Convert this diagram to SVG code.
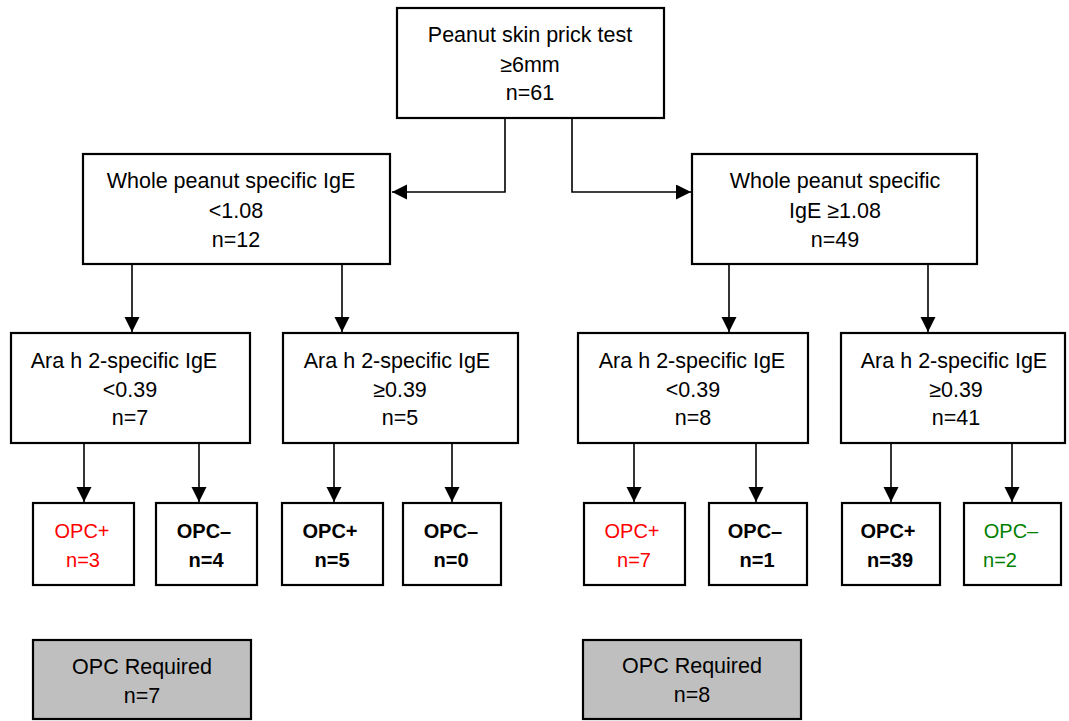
<svg xmlns="http://www.w3.org/2000/svg" width="1069" height="721" viewBox="0 0 1069 721">
<style>
.box{fill:#fff;stroke:#000;stroke-width:2.2}
.grey{fill:#bfbfbf;stroke:#000;stroke-width:2.2}
.t{font-family:"Liberation Sans",Arial,sans-serif;font-size:21.5px;fill:#000;text-anchor:middle}
.o{font-family:"Liberation Sans",Arial,sans-serif;font-size:20px;text-anchor:middle}
.b{font-weight:bold;fill:#000}
.red{fill:#ff0000}
.grn{fill:#008000}
.c{fill:none;stroke:#000;stroke-width:1.6}
</style>
<defs>
<marker id="ah" markerUnits="userSpaceOnUse" markerWidth="17" markerHeight="16" refX="15" refY="7.5" orient="auto">
<path d="M0,0 L15,7.5 L0,15 Z" fill="#000"/>
</marker>
</defs>
<g id="connectors">
<path class="c" d="M505,118 V192 H392" marker-end="url(#ah)"/>
<path class="c" d="M572,118 V192 H691" marker-end="url(#ah)"/>
<path class="c" d="M132,264 V332" marker-end="url(#ah)"/>
<path class="c" d="M342,264 V332" marker-end="url(#ah)"/>
<path class="c" d="M729,264 V332" marker-end="url(#ah)"/>
<path class="c" d="M928,264 V332" marker-end="url(#ah)"/>
<path class="c" d="M84,443 V502" marker-end="url(#ah)"/>
<path class="c" d="M199,443 V502" marker-end="url(#ah)"/>
<path class="c" d="M334,443 V502" marker-end="url(#ah)"/>
<path class="c" d="M452,443 V502" marker-end="url(#ah)"/>
<path class="c" d="M634,443 V502" marker-end="url(#ah)"/>
<path class="c" d="M756,443 V502" marker-end="url(#ah)"/>
<path class="c" d="M891,443 V502" marker-end="url(#ah)"/>
<path class="c" d="M1012,443 V502" marker-end="url(#ah)"/>
</g>
<g id="root">
<rect class="box" x="397" y="8" width="267" height="110"/>
<text class="t" x="530" y="42">Peanut skin prick test</text>
<text class="t" x="530" y="72">≥6mm</text>
<text class="t" x="530" y="100">n=61</text>
</g>
<g id="wp-low">
<rect class="box" x="83" y="154" width="307" height="110"/>
<text class="t" x="231" y="188">Whole peanut specific IgE</text>
<text class="t" x="236" y="218">&lt;1.08</text>
<text class="t" x="236" y="247">n=12</text>
</g>
<g id="wp-high">
<rect class="box" x="692" y="154" width="285" height="110"/>
<text class="t" x="835" y="188">Whole peanut specific</text>
<text class="t" x="835" y="218">IgE ≥1.08</text>
<text class="t" x="835" y="247">n=49</text>
</g>
<g id="ara1">
<rect class="box" x="11" y="333" width="239" height="110"/>
<text class="t" x="124" y="368">Ara h 2-specific IgE</text>
<text class="t" x="130" y="397">&lt;0.39</text>
<text class="t" x="130" y="425">n=7</text>
</g>
<g id="ara2">
<rect class="box" x="283" y="333" width="235" height="110"/>
<text class="t" x="397" y="368">Ara h 2-specific IgE</text>
<text class="t" x="400" y="397">≥0.39</text>
<text class="t" x="400" y="425">n=5</text>
</g>
<g id="ara3">
<rect class="box" x="578" y="333" width="230" height="110"/>
<text class="t" x="692" y="368">Ara h 2-specific IgE</text>
<text class="t" x="693" y="397">&lt;0.39</text>
<text class="t" x="693" y="425">n=8</text>
</g>
<g id="ara4">
<rect class="box" x="841" y="333" width="224" height="110"/>
<text class="t" x="954" y="368">Ara h 2-specific IgE</text>
<text class="t" x="956" y="397">≥0.39</text>
<text class="t" x="956" y="425">n=41</text>
</g>
<g id="opc-a">
<rect class="box" x="33" y="503" width="101" height="82"/>
<text class="o red" x="82" y="538">OPC+</text>
<text class="o red" x="83" y="567">n=3</text>
</g>
<g id="opc-b">
<rect class="box" x="156" y="503" width="101" height="82"/>
<text class="o b" x="204" y="538">OPC–</text>
<text class="o b" x="206" y="567">n=4</text>
</g>
<g id="opc-c">
<rect class="box" x="282" y="503" width="101" height="82"/>
<text class="o b" x="330" y="538">OPC+</text>
<text class="o b" x="332" y="567">n=5</text>
</g>
<g id="opc-d">
<rect class="box" x="403" y="503" width="98" height="82"/>
<text class="o b" x="451" y="538">OPC–</text>
<text class="o b" x="451" y="567">n=0</text>
</g>
<g id="opc-e">
<rect class="box" x="584" y="503" width="101" height="82"/>
<text class="o red" x="632" y="538">OPC+</text>
<text class="o red" x="634" y="567">n=7</text>
</g>
<g id="opc-f">
<rect class="box" x="709" y="503" width="98" height="82"/>
<text class="o b" x="755" y="538">OPC–</text>
<text class="o b" x="757" y="567">n=1</text>
</g>
<g id="opc-g">
<rect class="box" x="842" y="503" width="98" height="82"/>
<text class="o b" x="888" y="538">OPC+</text>
<text class="o b" x="890" y="567">n=39</text>
</g>
<g id="opc-h">
<rect class="box" x="964" y="503" width="97" height="82"/>
<text class="o grn" x="1011" y="538">OPC–</text>
<text class="o grn" x="1000" y="567">n=2</text>
</g>
<g id="req-left">
<rect class="grey" x="33" y="640" width="218" height="79"/>
<text class="t" x="142" y="674">OPC Required</text>
<text class="t" x="142" y="703">n=7</text>
</g>
<g id="req-right">
<rect class="grey" x="583" y="640" width="218" height="79"/>
<text class="t" x="692" y="673">OPC Required</text>
<text class="t" x="692" y="702">n=8</text>
</g>
</svg>
